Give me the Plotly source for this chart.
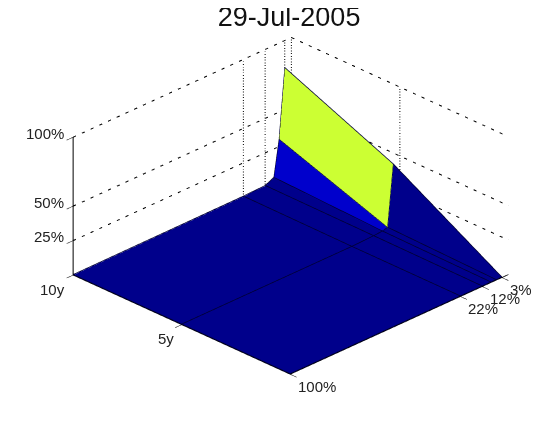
import plotly.graph_objects as go

# surface grid
strikes = [3, 5.6, 8, 12, 22, 100]
maturities = [0, 5, 10]
vol = [
    [0, 0, 0, 0, 0, 0],
    [46, 2, 1, 0.5, 0, 0],
    [80, 30, 4, 1, 0.5, 0],
]

NAVY = '#00008b'
BLUE = '#0000cc'
YELLOW = '#ccff33'
# one colour per cell: rows are maturity intervals, columns strike intervals
cell_colors = [
    [NAVY, NAVY, NAVY, NAVY, NAVY],
    [YELLOW, BLUE, NAVY, NAVY, NAVY],
]

x_ticks = [3, 12, 22, 100]
x_labels = ['3%', '12%', '22%', '100%']
y_ticks = [5, 10]
y_labels = ['5y', '10y']
z_ticks = [25, 50, 100]
z_labels = ['25%', '50%', '100%']

X_MIN, X_MAX = 0, 100
Y_MIN, Y_MAX = 0, 10
Z_MAX = 100
X_TICK = 103
Y_TICK = -0.3
EDGE_LIFT = 0.4  # keeps mesh edges from sinking into the faces


def line(fig, xs, ys, zs, color='black', width=1, dash='solid'):
    fig.add_trace(go.Scatter3d(
        x=xs, y=ys, z=zs, mode='lines',
        line=dict(color=color, width=width, dash=dash),
        hoverinfo='skip', showlegend=False
    ))


fig = go.Figure()

# flat coloured cells
vx, vy, vz, i, j, k, face = [], [], [], [], [], [], []
n = len(strikes)
for r, m in enumerate(maturities):
    for c, s in enumerate(strikes):
        vx.append(s)
        vy.append(m)
        vz.append(vol[r][c])
for r in range(len(maturities) - 1):
    for c in range(n - 1):
        a = r * n + c
        i += [a, a]
        j += [a + 1, a + n + 1]
        k += [a + n + 1, a + n]
        face += [cell_colors[r][c]] * 2

fig.add_trace(go.Mesh3d(
    x=vx, y=vy, z=vz, i=i, j=j, k=k, facecolor=face, flatshading=True,
    lighting=dict(ambient=1, diffuse=0, specular=0, fresnel=0),
    hoverinfo='skip', showscale=False
))

# mesh edges
for r, m in enumerate(maturities):
    line(fig, strikes, [m] * n, [v + EDGE_LIFT for v in vol[r]], color='#000030', width=1.5)
for c, s in enumerate(strikes):
    line(fig, [s] * 3, maturities, [row[c] + EDGE_LIFT for row in vol], color='#000030', width=1.5)

# dashed walls
for z in z_ticks:
    line(fig, [X_MAX, X_MIN, X_MIN], [Y_MAX, Y_MAX, Y_MIN], [z, z, z], width=2, dash='dash')
for s in x_ticks[:3]:
    line(fig, [s, s], [Y_MAX, Y_MAX], [0, Z_MAX], width=2, dash='dash')
line(fig, [X_MIN, X_MIN], [Y_MAX, Y_MAX], [0, Z_MAX], width=2, dash='dash')
line(fig, [X_MIN, X_MIN], [5, 5], [0, Z_MAX], width=2, dash='dash')

# solid axes and ticks
line(fig, [X_MAX, X_MAX], [Y_MAX, Y_MAX], [0, Z_MAX], width=2)
line(fig, [X_MAX, X_MAX], [Y_MAX, Y_MIN], [0, 0], width=1.5)
line(fig, [X_MAX, X_MIN], [Y_MIN, Y_MIN], [0, 0], width=1.5)
for z in z_ticks:
    line(fig, [X_MAX, X_TICK], [Y_MAX, Y_MAX], [z, z])
for m in y_ticks:
    line(fig, [X_MAX, X_TICK], [m, m], [0, 0])
for s in x_ticks:
    line(fig, [s, s], [Y_MIN, Y_TICK], [0, 0])

notes = []
for z, t in zip(z_ticks, z_labels):
    notes.append(dict(x=X_MAX, y=Y_MAX, z=z, text=t, xanchor='right', yanchor='middle', xshift=-7, yshift=4))
for m, t in zip(y_ticks, y_labels):
    notes.append(dict(x=X_MAX, y=m, z=0, text=t, xanchor='right', yanchor='middle', xshift=-6, yshift=-14))
for s, t in zip(x_ticks, x_labels):
    notes.append(dict(x=s, y=Y_MIN, z=0, text=t, xanchor='left', yanchor='middle', xshift=6, yshift=-12))
for a in notes:
    a.update(showarrow=False, font=dict(family='Liberation Sans', size=15, color='#222222'))

hidden = dict(visible=False, showgrid=False, zeroline=False, showspikes=False)
fig.update_layout(
    width=560, height=423,
    margin=dict(l=0, r=0, t=0, b=0),
    paper_bgcolor='white',
    title=dict(text='29-Jul-2005', x=0.502, xanchor='center', y=0.979, yanchor='middle',
               font=dict(family='Liberation Sans', size=27, color='#111111')),
    scene=dict(
        domain=dict(x=[0, 0.998], y=[0.019, 1]),
        xaxis=dict(range=[X_TICK, X_MIN], **hidden),
        yaxis=dict(range=[Y_TICK, Y_MAX + 0.3], **hidden),
        # a little slack below zero, the floor faces get clipped at the range edge
        zaxis=dict(range=[-1, Z_MAX + 1], **hidden),
        aspectmode='manual',
        aspectratio=dict(x=1.532, y=1.568, z=0.762),
        camera=dict(projection=dict(type='orthographic'),
                    up=dict(x=0, y=0, z=1),
                    center=dict(x=0, y=0, z=-0.044),
                    eye=dict(x=-1.25, y=-1.25, z=0.864)),
        annotations=notes,
        bgcolor='white'
    )
)

fig.write_html("out.html")
